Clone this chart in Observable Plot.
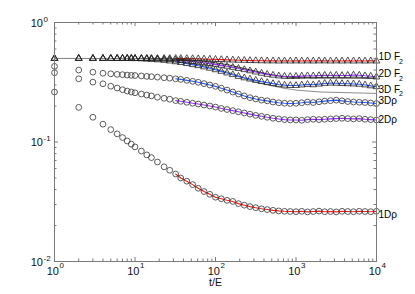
<!DOCTYPE html>
<html><head><meta charset="utf-8">
<script src="https://cdn.jsdelivr.net/npm/d3@7"></script>
<script src="https://cdn.jsdelivr.net/npm/@observablehq/plot@0.6"></script>
<style>body{margin:0;background:#fff}</style>
</head><body><div id="chart"></div>
<script>
// sample times t/E
const times = [1,2,3,4,5,6,7,8,9,10,12,14,16,19,23,27,32,37,44,52,61,72,85,100,118,139,164,193,228,268,316,373,439,518,611,720,848,1000,1179,1389,1638,1931,2276,2683,3162,3728,4394,5179,6105,7197,8483,10000];

const F2_1D = [0.5,0.5,0.5,0.5,0.5,0.5,0.5,0.5,0.5,0.5,0.5,0.5,0.5,0.5,0.5,0.5,0.5,0.5,0.499,0.498,0.497,0.495,0.493,0.491,0.489,0.487,0.485,0.483,0.482,0.48,0.479,0.478,0.477,0.477,0.476,0.477,0.476,0.477,0.476,0.477,0.476,0.477,0.477,0.476,0.477,0.476,0.477,0.476,0.477,0.476,0.477,0.476];
const F2_2D = [0.5,0.5,0.5,0.5,0.5,0.5,0.5,0.5,0.5,0.5,0.499,0.498,0.497,0.495,0.492,0.489,0.485,0.481,0.476,0.471,0.466,0.46,0.453,0.446,0.438,0.43,0.421,0.412,0.403,0.394,0.385,0.376,0.368,0.362,0.357,0.354,0.353,0.354,0.356,0.358,0.357,0.359,0.361,0.36,0.362,0.36,0.361,0.363,0.362,0.358,0.355,0.35];
const F2_3D = [0.5,0.5,0.5,0.5,0.5,0.5,0.5,0.5,0.499,0.498,0.496,0.494,0.491,0.487,0.482,0.476,0.469,0.462,0.453,0.444,0.435,0.425,0.414,0.402,0.39,0.378,0.366,0.354,0.344,0.336,0.328,0.32,0.314,0.308,0.303,0.299,0.297,0.297,0.3,0.303,0.301,0.305,0.309,0.311,0.31,0.308,0.307,0.306,0.304,0.3,0.295,0.29];
const rho_3D = [0.43,0.40,0.384,0.376,0.372,0.368,0.366,0.363,0.361,0.36,0.357,0.354,0.352,0.349,0.345,0.342,0.338,0.334,0.328,0.322,0.316,0.308,0.30,0.292,0.282,0.272,0.262,0.252,0.243,0.235,0.229,0.224,0.221,0.216,0.213,0.211,0.21,0.211,0.213,0.216,0.214,0.217,0.22,0.222,0.224,0.221,0.218,0.216,0.215,0.214,0.212,0.21];
const rho_2D = [0.38,0.338,0.317,0.307,0.293,0.283,0.274,0.267,0.262,0.258,0.252,0.247,0.243,0.237,0.232,0.228,0.222,0.219,0.215,0.211,0.208,0.204,0.2,0.196,0.191,0.187,0.183,0.179,0.175,0.171,0.167,0.164,0.161,0.158,0.156,0.154,0.153,0.153,0.152,0.154,0.155,0.154,0.155,0.156,0.157,0.158,0.157,0.156,0.157,0.155,0.154,0.153];
const rho_1D = [0.262,0.195,0.161,0.141,0.127,0.117,0.109,0.102,0.096,0.091,0.084,0.078,0.074,0.068,0.062,0.058,0.054,0.05,0.047,0.044,0.041,0.0385,0.0365,0.0345,0.0335,0.0325,0.0318,0.0305,0.0296,0.0288,0.0282,0.0276,0.0272,0.0268,0.0265,0.0263,0.0262,0.0261,0.0263,0.026,0.0262,0.0264,0.0261,0.0262,0.026,0.0263,0.0262,0.0261,0.0263,0.0262,0.0261,0.0263];

// theory curves
const theoryTimes = [1,10,20,30,50,70,100,150,200,300,450,700,1000,2000,10000];
const theory2D = [0.5,0.5,0.498,0.494,0.485,0.475,0.46,0.44,0.42,0.395,0.37,0.352,0.345,0.343,0.342];
const theory3D = [0.5,0.5,0.49,0.478,0.455,0.435,0.41,0.38,0.355,0.32,0.3,0.282,0.272,0.262,0.255];

// series labels
const labelMain = ["1D F","2D F","3D F","3D\u03c1","2D\u03c1","1D\u03c1"];
const labelSub = ["2","2","2","","",""];
const labelY = [0.481,0.348,0.258,0.209,0.145,0.0232];

// axis ticks
const xMajor = [1,10,100,1000,10000];
const xExp = ["0","1","2","3","4"];
const yMajor = [1,0.1,0.01];
const yExp = ["0","-1","-2"];
const xMinor = [0,1,2,3].flatMap(e => [2,3,4,5,6,7,8,9].map(m => m * 10 ** e));
const yMinor = [-2,-1].flatMap(e => [2,3,4,5,6,7,8,9].map(m => m * 10 ** e));

const W = 415, H = 294, mL = 54, mR = 39, mT = 22, mB = 33;
const iw = W - mL - mR, ih = H - mT - mB;
const axisColor = "#7a7a7a";

const rows = (vals) => times.map((t, i) => ({t, v: vals[i]}));
const seriesLines = [
  {vals: F2_1D, color: "#ff1a1a"},
  {vals: F2_2D, color: "#9b30ff"},
  {vals: F2_3D, color: "#2a5cff"},
  {vals: rho_3D, color: "#2a5cff"},
  {vals: rho_2D, color: "#9b30ff"},
  {vals: rho_1D, color: "#ff1a1a"}
];
const triRows = [F2_1D, F2_2D, F2_3D].flatMap(rows);
const circRows = [rho_3D, rho_2D, rho_1D].flatMap(rows);
const labels = labelMain.map((m, i) => ({m, s: labelSub[i], y: labelY[i]}));
const th = (vals) => theoryTimes.map((t, i) => ({t, v: vals[i]}));

const marks = [
  Plot.line(th(theory2D), {x: "t", y: "v", stroke: "#3a3a3a", strokeWidth: 1}),
  Plot.line(th(theory3D), {x: "t", y: "v", stroke: "#8c8c8c", strokeWidth: 1}),
  ...seriesLines.map(s => Plot.line(rows(s.vals).filter(d => d.t >= 30), {x: "t", y: "v", stroke: s.color, strokeWidth: 1.1})),
  Plot.dot(triRows, {x: "t", y: "v", symbol: "triangle", r: 2.5, stroke: "#222", strokeWidth: 0.8, fill: "none"}),
  Plot.dot(circRows, {x: "t", y: "v", r: 2.9, stroke: "#333", strokeWidth: 0.8, fill: "none"}),
  Plot.frame({stroke: axisColor, strokeWidth: 1}),
  // inward ticks
  Plot.tickX(xMajor, {x: d => d, stroke: axisColor, insetTop: ih - 4}),
  Plot.tickX(xMinor, {x: d => d, stroke: axisColor, insetTop: ih - 2.5}),
  Plot.tickX(xMajor, {x: d => d, stroke: axisColor, insetBottom: ih - 4}),
  Plot.tickX(xMinor, {x: d => d, stroke: axisColor, insetBottom: ih - 2.5}),
  Plot.tickY(yMajor, {y: d => d, stroke: axisColor, insetRight: iw - 4}),
  Plot.tickY(yMinor, {y: d => d, stroke: axisColor, insetRight: iw - 2.5}),
  Plot.tickY(yMajor, {y: d => d, stroke: axisColor, insetLeft: iw - 4}),
  Plot.tickY(yMinor, {y: d => d, stroke: axisColor, insetLeft: iw - 2.5}),
  // tick labels
  Plot.text(xMajor, {x: d => d, frameAnchor: "bottom", text: () => "10", textAnchor: "end", dx: 4.5, dy: 13.5, fontSize: 11, fill: "#111"}),
  Plot.text(xMajor, {x: d => d, frameAnchor: "bottom", text: (d, i) => xExp[i], textAnchor: "start", dx: 5, dy: 6.5, fontSize: 8, fill: "#111"}),
  Plot.text(yMajor, {y: d => d, frameAnchor: "left", text: () => "10", textAnchor: "end", dx: -11.5, dy: 0.5, fontSize: 11, fill: "#111"}),
  Plot.text(yMajor, {y: d => d, frameAnchor: "left", text: (d, i) => yExp[i], textAnchor: "start", dx: -11, dy: -3.5, fontSize: 8, fill: "#111"}),
  Plot.text(["t/E"], {frameAnchor: "bottom", text: d => d, dy: 24, fontSize: 10.5, fill: "#111"}),
  // series labels
  Plot.text(labels, {x: () => 10000, y: "y", text: "m", textAnchor: "start", lineAnchor: "bottom", dx: 2, fontSize: 10, fill: "#000"}),
  Plot.text(labels.filter(d => d.s), {x: () => 10000, y: "y", text: "s", textAnchor: "start", lineAnchor: "bottom", dx: 22.5, dy: 3.5, fontSize: 7, fill: "#000"})
];

const chart = Plot.plot({
  width: W, height: H,
  marginLeft: mL, marginRight: mR, marginTop: mT, marginBottom: mB,
  x: {type: "log", domain: [1, 10000], axis: null},
  y: {type: "log", domain: [0.01, 1], axis: null},
  style: {fontFamily: "'Liberation Sans', Arial, sans-serif", background: "#fff", overflow: "visible"},
  marks
});
document.getElementById("chart").appendChild(chart);
</script>
</body></html>
